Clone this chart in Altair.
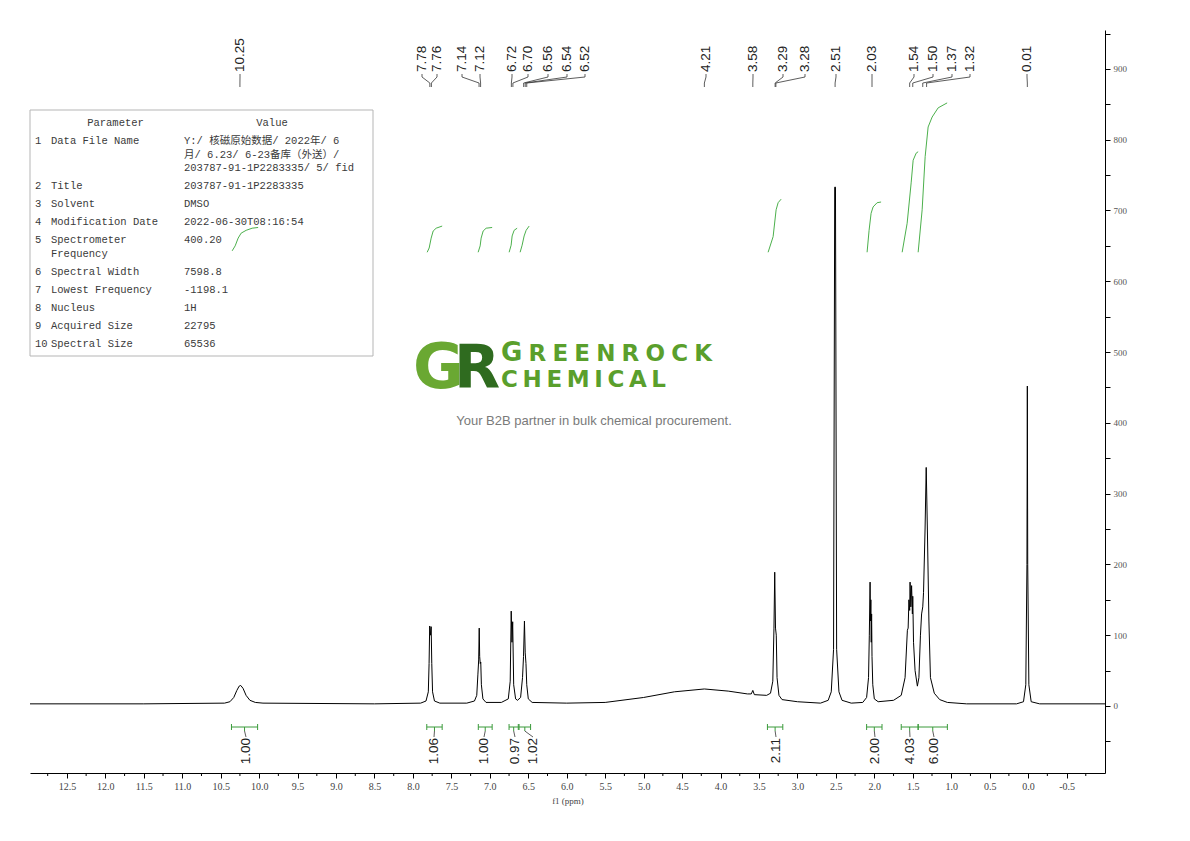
import altair as alt
import pandas as pd

# ---------------- data ----------------
spec_ppm = [12.98, 11.5, 10.45, 10.38, 10.33, 10.29, 10.26, 10.24, 10.21, 10.17, 10.12, 10.05, 9.95,
            8.5, 7.90, 7.83, 7.80, 7.79, 7.782, 7.772, 7.763, 7.755, 7.745, 7.72, 7.65,
            7.30, 7.20, 7.17, 7.155, 7.145, 7.138, 7.132, 7.125, 7.118, 7.11, 7.09, 7.05,
            6.85, 6.76, 6.735, 6.722, 6.712, 6.703, 6.69, 6.665, 6.64, 6.60, 6.575, 6.562,
            6.55, 6.54, 6.53, 6.52, 6.50, 6.45,
            6.0, 5.5, 5.0, 4.6, 4.21, 3.9, 3.65, 3.60, 3.58, 3.56, 3.40, 3.35, 3.32, 3.305,
            3.295, 3.285, 3.275, 3.265, 3.24, 3.20, 3.0, 2.70, 2.60, 2.56, 2.53, 2.515,
            2.505, 2.49, 2.46, 2.42, 2.30, 2.15, 2.10, 2.075, 2.065, 2.055, 2.05, 2.045,
            2.04, 2.035, 2.03, 2.02, 2.00, 1.95, 1.75, 1.65, 1.60, 1.57, 1.56, 1.55,
            1.54, 1.535, 1.525, 1.515, 1.505, 1.50, 1.49, 1.47, 1.44, 1.42, 1.40, 1.385,
            1.37, 1.36, 1.34, 1.325, 1.31, 1.29, 1.27, 1.22, 1.15, 1.05, 0.8, 0.15, 0.06,
            0.03, 0.015, 0.01, 0.005, -0.01, -0.04, -0.15, -1.0]
spec_int = [3, 3, 4, 6, 12, 22, 28, 29, 25, 15, 8, 5, 4,
            3, 4, 7, 20, 60, 113, 100, 112, 60, 20, 7, 4,
            4, 7, 15, 45, 65, 110, 70, 60, 62, 30, 10, 5,
            5, 10, 35, 134, 90, 119, 30, 10, 8, 12, 40, 70,
            120, 75, 60, 30, 10, 5,
            4, 5, 12, 20, 24, 21, 17, 17, 22, 16, 15, 18, 35, 110,
            189, 110, 100, 40, 15, 9, 6, 4, 8, 20, 80, 733,
            733, 80, 20, 8, 4, 5, 12, 40, 100, 175, 120, 150,
            90, 130, 70, 30, 10, 6, 8, 15, 40, 107, 110, 150,
            135, 175, 140, 170, 130, 155, 90, 50, 28, 40, 100, 130,
            140, 160, 250, 337, 250, 120, 40, 18, 9, 5, 3, 3, 6,
            30, 200, 452, 200, 30, 6, 3, 3]

peak_labels = ["10.25", "7.78", "7.76", "7.14", "7.12", "6.72", "6.70", "6.56", "6.54", "6.52",
               "4.21", "3.58", "3.29", "3.28", "2.51", "2.03", "1.54", "1.50", "1.37", "1.32", "0.01"]

integ_labels = ["1.00", "1.06", "1.00", "0.97", "1.02", "2.11", "2.00", "4.03", "6.00"]
integ_from = [10.36, 7.82, 7.15, 6.75, 6.62, 3.39, 2.10, 1.65, 1.43]
integ_to = [10.02, 7.62, 6.97, 6.63, 6.47, 3.19, 1.90, 1.43, 1.05]

int_curves_ppm = [
    [10.351, 10.312, 10.273, 10.234, 10.169, 10.091, 10.013],
    [7.815, 7.789, 7.763, 7.737, 7.698, 7.620],
    [7.152, 7.126, 7.113, 7.087, 7.048, 6.970],
    [6.749, 6.723, 6.710, 6.684, 6.645],
    [6.606, 6.580, 6.554, 6.528, 6.489],
    [3.381, 3.316, 3.277, 3.251, 3.212],
    [2.094, 2.068, 2.042, 2.016, 1.964, 1.912],
    [1.638, 1.573, 1.521, 1.495, 1.456, 1.430],
    [1.430, 1.378, 1.339, 1.300, 1.248, 1.170, 1.053],
]
int_curves_val = [
    [643, 650, 661, 668, 672, 675, 676],
    [641, 647, 661, 671, 675, 678],
    [641, 650, 661, 671, 675, 676],
    [641, 651, 664, 672, 675],
    [641, 651, 664, 672, 678],
    [641, 663, 701, 711, 716],
    [641, 672, 696, 705, 711, 712],
    [641, 682, 739, 771, 781, 783],
    [641, 701, 776, 818, 832, 845, 852],
]

x_major_ticks = [12.5, 12.0, 11.5, 11.0, 10.5, 10.0, 9.5, 9.0, 8.5, 8.0, 7.5, 7.0, 6.5, 6.0,
                 5.5, 5.0, 4.5, 4.0, 3.5, 3.0, 2.5, 2.0, 1.5, 1.0, 0.5, 0.0, -0.5]
x_minor_ticks = [12.75, 12.25, 11.75, 11.25, 10.75, 10.25, 9.75, 9.25, 8.75, 8.25, 7.75, 7.25,
                 6.75, 6.25, 5.75, 5.25, 4.75, 4.25, 3.75, 3.25, 2.75, 2.25, 1.75, 1.25, 0.75,
                 0.25, -0.25, -0.75]
y_ticks = [-50, 0, 50, 100, 150, 200, 250, 300, 350, 400, 450, 500, 550, 600, 650, 700, 750,
           800, 850, 900, 950]

param_names = [["Data File Name"], ["Title"], ["Solvent"], ["Modification Date"],
               ["Spectrometer", "Frequency"], ["Spectral Width"], ["Lowest Frequency"],
               ["Nucleus"], ["Acquired Size"], ["Spectral Size"]]
param_values = [["Y:/ 核磁原始数据/ 2022年/ 6", "月/ 6.23/ 6-23备库（外送）/", "203787-91-1P2283335/ 5/ fid"],
                ["203787-91-1P2283335"], ["DMSO"], ["2022-06-30T08:16:54"], ["400.20"],
                ["7598.8"], ["-1198.1"], ["1H"], ["22795"], ["65536"]]

brand_top = "GREENROCK"
brand_bottom = "CHEMICAL"
tagline = "Your B2B partner in bulk chemical procurement."

# ---------------- layout (page pixels) ----------------
W, H = 1075, 743
X0, Y0 = 30, 30
XMIN, XMAX = -1.0, 12.98
YMIN, YMAX = -94.7, 955.0


def px2ppm(px):
    return XMAX - (px - X0) / W * (XMAX - XMIN)


def py2v(py):
    return YMAX - (py - Y0) / H * (YMAX - YMIN)


peak_label_px = [240, 422, 437, 462, 480, 512, 528, 548, 567, 585,
                 706, 753, 783, 805, 836, 872, 914, 933, 952, 970, 1027]
integ_label_px = [246, 434, 484, 515, 533, 776, 875, 910, 934]

xscale = alt.Scale(domain=[XMIN, XMAX], reverse=True, nice=False, zero=False)
yscale = alt.Scale(domain=[YMIN, YMAX], nice=False, zero=False)
xaxis = alt.Axis(values=x_major_ticks,
                 labelExpr="replace(format(datum.value, '.1f'), '\u2212', '-')",
                 tickSize=5, tickColor="#000", domainColor="#000", tickWidth=1, domainWidth=1,
                 labelFont="Liberation Serif", labelFontSize=10, labelColor="#444",
                 labelPadding=3, grid=False, title="f1 (ppm)", titleFont="Liberation Serif",
                 titleFontSize=9, titleFontWeight="normal", titleColor="#444", titlePadding=5)
yaxis = alt.Axis(orient="right", values=y_ticks,
                 labelExpr="datum.value >= 0 && datum.value % 100 == 0 ? datum.value : ''",
                 tickSize=5, tickColor="#000", domainColor="#000", tickWidth=1, domainWidth=1,
                 labelFont="Liberation Serif", labelFontSize=9, labelColor="#555",
                 labelPadding=3, grid=False, title=None)


def X(f="ppm"):
    return alt.X(f"{f}:Q", scale=xscale, axis=xaxis)


def Y(f="v"):
    return alt.Y(f"{f}:Q", scale=yscale, axis=yaxis)


# spectrum
spec_df = pd.DataFrame({"ppm": spec_ppm, "v": spec_int, "i": range(len(spec_ppm))})
spectrum = alt.Chart(spec_df).mark_line(color="#000", strokeWidth=1).encode(
    x=X(), y=Y(), order="i:Q")

# integral curves
rows = []
for g, (pp, vv) in enumerate(zip(int_curves_ppm, int_curves_val)):
    for k, (p, v) in enumerate(zip(pp, vv)):
        rows.append({"ppm": p, "v": v, "g": g, "i": k})
integ_curve = alt.Chart(pd.DataFrame(rows)).mark_line(color="#4cb04c", strokeWidth=1).encode(
    x=X(), y=Y(), detail="g:N", order="i:Q")

# peak labels & connectors
plab = pd.DataFrame({"ppm": [px2ppm(p) for p in peak_label_px],
                     "v": [py2v(72)] * len(peak_labels), "t": peak_labels})
peak_text = alt.Chart(plab).mark_text(angle=270, align="left", baseline="middle",
                                      font="Liberation Sans", fontSize=13.5, color="#222").encode(
    x=X(), y=Y(), text="t:N")
segs = []
for lab, px in zip(peak_labels, peak_label_px):
    lx = px2ppm(px)
    tx = float(lab)
    segs.append({"ppm": lx, "v": py2v(74), "ppm2": lx, "v2": py2v(77)})
    segs.append({"ppm": lx, "v": py2v(77), "ppm2": tx, "v2": py2v(83)})
    segs.append({"ppm": tx, "v": py2v(83), "ppm2": tx, "v2": py2v(87)})
peak_lines = alt.Chart(pd.DataFrame(segs)).mark_rule(color="#333", strokeWidth=0.8).encode(
    x=X(), y=Y(), x2="ppm2:Q", y2="v2:Q")

# integral brackets
br = []
stems = []
for a, b, lpx in zip(integ_from, integ_to, integ_label_px):
    vb = py2v(727)
    br.append({"ppm": a, "v": vb, "ppm2": b, "v2": vb})
    br.append({"ppm": a, "v": py2v(724), "ppm2": a, "v2": py2v(730)})
    br.append({"ppm": b, "v": py2v(724), "ppm2": b, "v2": py2v(730)})
    c = (a + b) / 2
    br.append({"ppm": c, "v": vb, "ppm2": c, "v2": py2v(731)})
    stems.append({"ppm": c, "v": py2v(731), "ppm2": px2ppm(lpx), "v2": py2v(737)})
brackets = alt.Chart(pd.DataFrame(br)).mark_rule(color="#3a9a3a", strokeWidth=1).encode(
    x=X(), y=Y(), x2="ppm2:Q", y2="v2:Q")
stem_lines = alt.Chart(pd.DataFrame(stems)).mark_rule(color="#333", strokeWidth=0.8).encode(
    x=X(), y=Y(), x2="ppm2:Q", y2="v2:Q")
ilab = pd.DataFrame({"ppm": [px2ppm(p) for p in integ_label_px],
                     "v": [py2v(738)] * len(integ_labels), "t": integ_labels})
integ_text = alt.Chart(ilab).mark_text(angle=270, align="right", baseline="middle",
                                       font="Liberation Sans", fontSize=13.5, color="#222").encode(
    x=X(), y=Y(), text="t:N")

# minor x ticks
minor = pd.DataFrame({"ppm": x_minor_ticks, "v": [py2v(773)] * len(x_minor_ticks),
                      "v2": [py2v(776)] * len(x_minor_ticks)})
minor_ticks = alt.Chart(minor).mark_rule(color="#000", strokeWidth=1).encode(
    x=X(), y=Y(), y2="v2:Q")

# parameter table
box = alt.Chart(pd.DataFrame({"ppm": [px2ppm(30)], "ppm2": [px2ppm(373)],
                              "v": [py2v(110)], "v2": [py2v(356)]})).mark_rect(
    fill="white", fillOpacity=0, stroke="#b5b5b5", strokeWidth=1).encode(
    x=X(), y=Y(), x2="ppm2:Q", y2="v2:Q")
tfont = "Liberation Mono, Noto Sans CJK SC"
num_rows, name_rows, val_rows = [], [], []
y = 141.0
for n, (names, vals) in enumerate(zip(param_names, param_values), start=1):
    num_rows.append({"ppm": px2ppm(35), "v": py2v(y), "t": str(n)})
    for j in range(max(len(names), len(vals))):
        yy = y + 13.5 * j
        if j < len(names):
            name_rows.append({"ppm": px2ppm(51), "v": py2v(yy), "t": names[j]})
        if j < len(vals):
            val_rows.append({"ppm": px2ppm(184), "v": py2v(yy), "t": vals[j]})
    y = y + 13.5 * (max(len(names), len(vals)) - 1) + 18
tbl_left = alt.Chart(pd.DataFrame(num_rows + name_rows + val_rows)).mark_text(
    align="left", baseline="middle", font=tfont, fontSize=10.5, color="#3a3a3a").encode(
    x=X(), y=Y(), text="t:N")
tbl_head = alt.Chart(pd.DataFrame({"ppm": [px2ppm(115.5), px2ppm(272)],
                                   "v": [py2v(123)] * 2, "t": ["Parameter", "Value"]})).mark_text(
    align="center", baseline="middle", font=tfont, fontSize=10.5, color="#3a3a3a").encode(
    x=X(), y=Y(), text="t:N")

# watermark logo
dv_bold_w = {'G': 0.821, 'R': 0.770, 'E': 0.683, 'N': 0.837, 'O': 0.850, 'C': 0.734, 'K': 0.775,
             'H': 0.837, 'M': 0.995, 'I': 0.372, 'A': 0.774, 'L': 0.637}


def spread(word, x_start, x_end, sizes):
    widths = [dv_bold_w[c] * s for c, s in zip(word, sizes)]
    gap = (x_end - x_start - sum(widths)) / (len(word) - 1)
    xs, x = [], x_start
    for w in widths:
        xs.append(x)
        x += w + gap
    return xs


letters = []
sz_top = [26] + [23] * (len(brand_top) - 1)
for c, xx, s in zip(brand_top, spread(brand_top, 501, 712, sz_top), sz_top):
    letters.append({"ppm": px2ppm(xx), "v": py2v(361), "t": c, "s": s})
sz_bot = [23] * len(brand_bottom)
for c, xx, s in zip(brand_bottom, spread(brand_bottom, 501, 666, sz_bot), sz_bot):
    letters.append({"ppm": px2ppm(xx), "v": py2v(387), "t": c, "s": s})
brand = alt.Chart(pd.DataFrame(letters)).mark_text(
    align="left", baseline="alphabetic", font="DejaVu Sans", fontWeight="bold",
    color="#5a9f2c").encode(x=X(), y=Y(), text="t:N",
                            size=alt.Size("s:Q", scale=None, legend=None))
g_mark = alt.Chart(pd.DataFrame({"ppm": [px2ppm(413)], "v": [py2v(388)], "t": ["G"]})).mark_text(
    align="left", baseline="alphabetic", font="DejaVu Sans", fontWeight="bold", fontSize=62,
    color="#6aa832").encode(x=X(), y=Y(), text="t:N")
r_mark = alt.Chart(pd.DataFrame({"ppm": [px2ppm(454)], "v": [py2v(388)], "t": ["R"]})).mark_text(
    align="left", baseline="alphabetic", font="DejaVu Sans", fontWeight="bold", fontSize=60,
    color="#2f6b1f").encode(x=X(), y=Y(), text="t:N")
tag = alt.Chart(pd.DataFrame({"ppm": [px2ppm(594)], "v": [py2v(425)], "t": [tagline]})).mark_text(
    align="center", baseline="alphabetic", font="Liberation Sans", fontSize=13,
    color="#7a7a7a").encode(x=X(), y=Y(), text="t:N")

chart = alt.layer(
    box, tbl_head, tbl_left, g_mark, r_mark, brand, tag,
    spectrum, integ_curve, peak_lines, peak_text, brackets, stem_lines, integ_text, minor_ticks
).properties(
    width=W, height=H,
    autosize=alt.AutoSizeParams(type="none"),
    padding={"left": 22, "top": 22, "right": 77, "bottom": 60},
).configure_view(stroke=None)

chart.save("out.html", embed_options={"renderer": "svg", "actions": False})
